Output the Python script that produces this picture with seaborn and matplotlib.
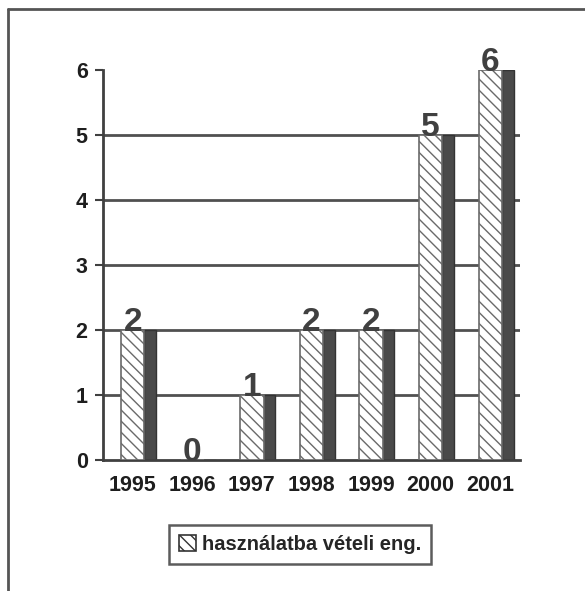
import numpy as np
import pandas as pd
import matplotlib
matplotlib.use("Agg")
import matplotlib.pyplot as plt
import seaborn as sns
from matplotlib.patches import Patch
from matplotlib.lines import Line2D

# =========================
# Data
# =========================
years = ["1995", "1996", "1997", "1998", "1999", "2000", "2001"]
counts = [2, 0, 1, 2, 2, 5, 6]
series_name = "használatba vételi eng."

df = pd.DataFrame({"year": years, "count": counts})

sns.set_style("white")
plt.rcParams['font.family'] = ['Liberation Sans', 'DejaVu Sans']
plt.rcParams['font.weight'] = 'bold'
plt.rcParams['hatch.linewidth'] = 1.0

dark = "#4a4a4a"

fig = plt.figure(figsize=(5.85, 5.91), dpi=100)
ax = fig.add_axes([0.176, 0.222, 0.713, 0.659])

# side (shadow) face of the bars
x = np.arange(len(years))
ax.bar(x + 0.29, df['count'], width=0.2, color=dark, edgecolor="#333333",
       linewidth=1, zorder=2)

# front hatched face
sns.barplot(data=df, x="year", y="count", ax=ax, width=0.39,
            color="white", edgecolor="#6a6a6a", hatch="\\\\\\",
            linewidth=1.2, zorder=3, saturation=1)

# value labels
for i, v in enumerate(df['count']):
    ax.text(i, v + 0.12, str(v), ha="center", va="center", fontsize=24,
            fontweight="bold", color="#404040", zorder=5)

# =========================
# Axes styling
# =========================
ax.set_ylim(0, 6)
ax.set_xlim(-0.5, 6.5)
ax.set_yticks(range(0, 7))
ax.yaxis.grid(True, color="#505050", linewidth=2)
ax.get_ygridlines()[-1].set_visible(False)
ax.get_ygridlines()[0].set_visible(False)
ax.set_axisbelow(True)

for side in ["top", "right"]:
    ax.spines[side].set_visible(False)
for side in ["left", "bottom"]:
    ax.spines[side].set_color("#404040")
    ax.spines[side].set_linewidth(2)

ax.set_xticks(np.arange(-0.5, 7, 1), minor=True)
ax.tick_params(axis="x", which="major", length=0, pad=11, labelsize=15.5)
ax.tick_params(axis="x", which="minor", length=6, width=1.5, color="#404040",
               direction="out")
ax.tick_params(axis="y", length=6, width=1.5, color="#404040", left=True,
               pad=5, labelsize=15.5)
for lab in ax.get_xticklabels() + ax.get_yticklabels():
    lab.set_fontweight("bold")
    lab.set_color("#1e1e1e")

ax.set_xlabel("")
ax.set_ylabel("")

# legend
handle = Patch(facecolor="white", edgecolor="#333333", hatch="\\\\\\",
               linewidth=1.2)
leg = fig.legend(handles=[handle], labels=[series_name], loc="center",
                 bbox_to_anchor=(0.513, 0.079), frameon=True, fancybox=False,
                 edgecolor="#333333", handlelength=0.8, handleheight=0.8,
                 handletextpad=0.3, borderpad=0.5,
                 prop={"family": "Liberation Sans", "weight": "bold", "size": 14.5})
leg.get_frame().set_linewidth(1.8)

# outer frame (top and left edges visible in the scan)
fig.add_artist(Line2D([0.014, 1.0], [0.985, 0.985], color="#555555",
                      linewidth=2, transform=fig.transFigure))
fig.add_artist(Line2D([0.014, 0.014], [0.0, 0.985], color="#555555",
                      linewidth=2, transform=fig.transFigure))

plt.savefig("out.png", dpi=100)
